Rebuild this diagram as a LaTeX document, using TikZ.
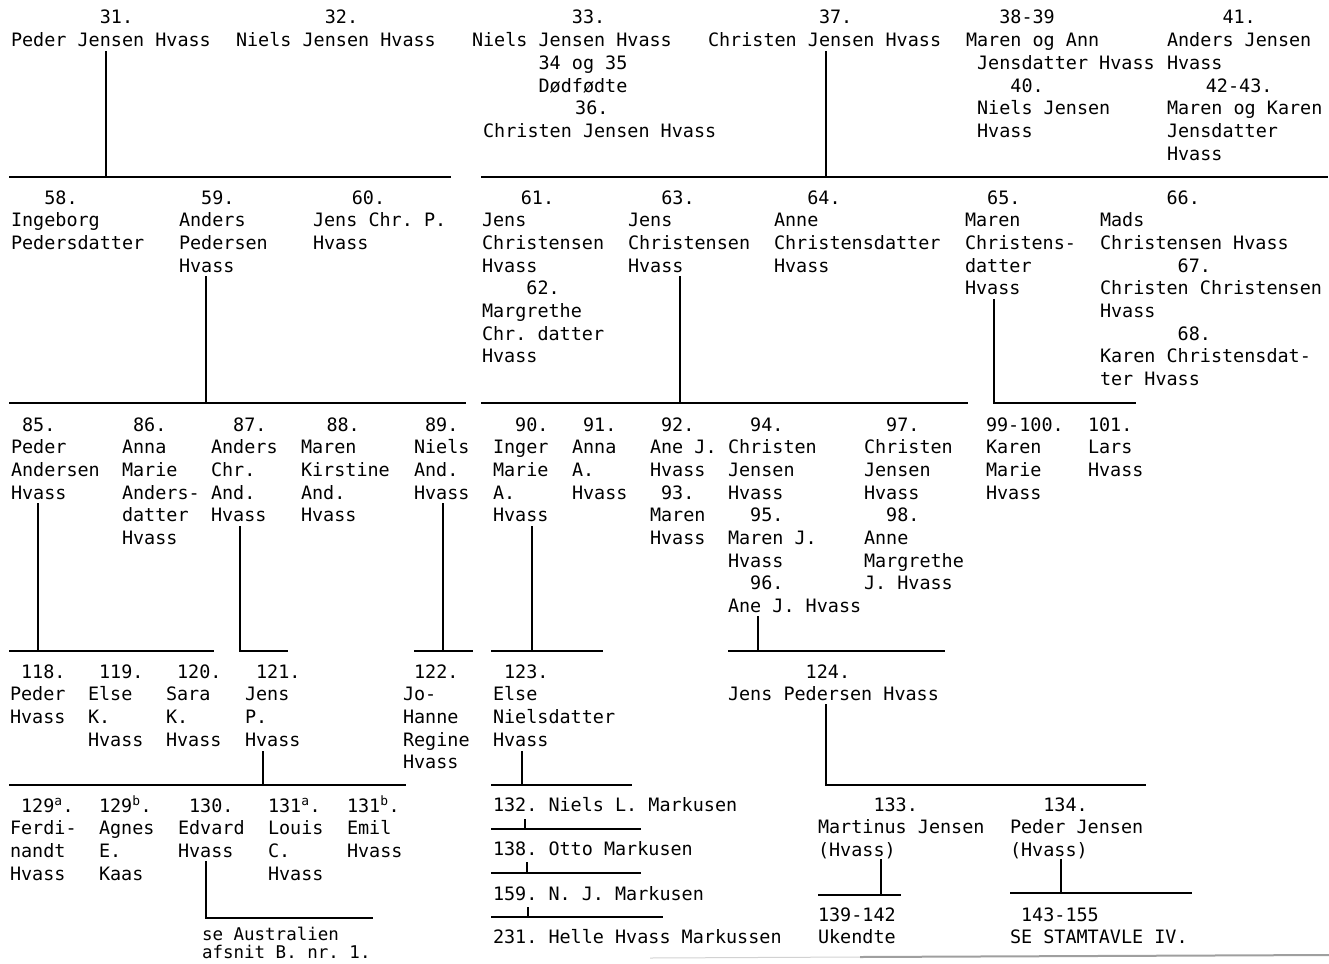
\documentclass[tikz,border=0pt]{standalone}
\usepackage{fontspec}
\newfontfamily\tw{DejaVu Sans Mono}
\newlength\cw
\setlength\cw{11.1pt}
\newcommand\ind[1]{\hspace*{#1\cw}}
\newcommand\blk[1]{\begin{tabular}[t]{@{}l@{}}#1\end{tabular}}
\newcommand\sups[1]{\textsuperscript{#1}}
\begin{document}
\frenchspacing
\begin{tikzpicture}[x=1pt,y=-1pt,
  person/.style={anchor=base west, inner sep=0pt, outer sep=0pt,
    font=\tw\fontsize{18.44}{22.7}\selectfont\frenchspacing},
  note/.style={person, font=\tw\fontsize{17.5}{18.5}\selectfont\frenchspacing},
  link/.style={line width=1.4pt, black, line cap=rect}]
\useasboundingbox (0,0) rectangle (1329,963);

% ---------------- generation 1
\node[person] (p31) at (11,24)  {\blk{\ind{8}31.\\Peder Jensen Hvass}};
\node[person] (p32) at (236,24) {\blk{\ind{8}32.\\Niels Jensen Hvass}};
\node[person] (p33) at (472,24) {\blk{\ind{9}33.\\Niels Jensen Hvass\\\ind{6}34 og 35\\\ind{6}Dødfødte\\\ind{9.3}36.\\\ind{1}Christen Jensen Hvass}};
\node[person] (p37) at (708,24) {\blk{\ind{10}37.\\Christen Jensen Hvass}};
\node[person] (p38) at (966,24) {\blk{\ind{3}38-39\\Maren og Ann\\\ind{1}Jensdatter Hvass\\\ind{4}40.\\\ind{1}Niels Jensen\\\ind{1}Hvass}};
\node[person] (p41) at (1167,24) {\blk{\ind{5}41.\\Anders Jensen\\Hvass\\\ind{3.5}42-43.\\Maren og Karen\\Jensdatter\\Hvass}};

\coordinate (t31) at (106,52);
\coordinate (t37) at (826,52);
\coordinate (b1l) at (10,177);   \coordinate (b1r) at (450,177);
\coordinate (b2l) at (482,177);  \coordinate (b2r) at (1327,177);
\draw[link] (t31) -- (t31 |- b1l);
\draw[link] (b1l) -- (b1r);
\draw[link] (t37) -- (t37 |- b2l);
\draw[link] (b2l) -- (b2r);

% ---------------- generation 2
\node[person] (p58) at (11,204)  {\blk{\ind{3}58.\\Ingeborg\\Pedersdatter}};
\node[person] (p59) at (179,204) {\blk{\ind{2}59.\\Anders\\Pedersen\\Hvass}};
\node[person] (p60) at (313,204) {\blk{\ind{3.5}60.\\Jens Chr. P.\\Hvass}};
\node[person] (p61) at (482,204) {\blk{\ind{3.5}61.\\Jens\\Christensen\\Hvass\\\ind{4}62.\\Margrethe\\Chr. datter\\Hvass}};
\node[person] (p63) at (628,204) {\blk{\ind{3}63.\\Jens\\Christensen\\Hvass}};
\node[person] (p64) at (774,204) {\blk{\ind{3}64.\\Anne\\Christensdatter\\Hvass}};
\node[person] (p65) at (965,204) {\blk{\ind{2}65.\\Maren\\Christens-\\datter\\Hvass}};
\node[person] (p66) at (1100,204) {\blk{\ind{6}66.\\Mads\\Christensen Hvass\\\ind{7}67.\\Christen Christensen\\Hvass\\\ind{7}68.\\Karen Christensdat-\\ter Hvass}};

\coordinate (t59) at (206,277);
\coordinate (t63) at (680,277);
\coordinate (t65) at (994,300);
\coordinate (b3l) at (10,403);   \coordinate (b3r) at (465,403);
\coordinate (b4l) at (482,403);  \coordinate (b4r) at (967,403);
\coordinate (b5r) at (1135,403);
\draw[link] (t59) -- (t59 |- b3l);
\draw[link] (b3l) -- (b3r);
\draw[link] (t63) -- (t63 |- b4l);
\draw[link] (b4l) -- (b4r);
\draw[link] (t65) -- (t65 |- b5r) -- (b5r);

% ---------------- generation 3
\node[person] (p85) at (11,431)  {\blk{\ind{1}85.\\Peder\\Andersen\\Hvass}};
\node[person] (p86) at (122,431) {\blk{\ind{1}86.\\Anna\\Marie\\Anders-\\datter\\Hvass}};
\node[person] (p87) at (211,431) {\blk{\ind{2}87.\\Anders\\Chr.\\And.\\Hvass}};
\node[person] (p88) at (301,431) {\blk{\ind{2.3}88.\\Maren\\Kirstine\\And.\\Hvass}};
\node[person] (p89) at (414,431) {\blk{\ind{1}89.\\Niels\\And.\\Hvass}};
\node[person] (p90) at (493,431) {\blk{\ind{2}90.\\Inger\\Marie\\A.\\Hvass}};
\node[person] (p91) at (572,431) {\blk{\ind{1}91.\\Anna\\A.\\Hvass}};
\node[person] (p92) at (650,431) {\blk{\ind{1}92.\\Ane J.\\Hvass\\\ind{1}93.\\Maren\\Hvass}};
\node[person] (p94) at (728,431) {\blk{\ind{2}94.\\Christen\\Jensen\\Hvass\\\ind{2}95.\\Maren J.\\Hvass\\\ind{2}96.\\Ane J. Hvass}};
\node[person] (p97) at (864,431) {\blk{\ind{2}97.\\Christen\\Jensen\\Hvass\\\ind{2}98.\\Anne\\Margrethe\\J. Hvass}};
\node[person] (p99) at (986,431) {\blk{99-100.\\Karen\\Marie\\Hvass}};
\node[person] (p101) at (1088,431) {\blk{101.\\Lars\\Hvass}};

\coordinate (t85) at (38,504);
\coordinate (t87) at (240,527);
\coordinate (t89) at (443,504);
\coordinate (t90) at (532,527);
\coordinate (t96) at (758,617);
\coordinate (b6l) at (10,651);   \coordinate (b6r) at (213,651);
\coordinate (b7r) at (287,651);
\coordinate (b8l) at (415,651);  \coordinate (b8r) at (472,651);
\coordinate (b9l) at (492,651);  \coordinate (b9r) at (602,651);
\coordinate (b10l) at (729,651); \coordinate (b10r) at (944,651);
\draw[link] (t85) -- (t85 |- b6l);
\draw[link] (b6l) -- (b6r);
\draw[link] (t87) -- (t87 |- b7r) -- (b7r);
\draw[link] (t89) -- (t89 |- b8l);
\draw[link] (b8l) -- (b8r);
\draw[link] (t90) -- (t90 |- b9l);
\draw[link] (b9l) -- (b9r);
\draw[link] (t96) -- (t96 |- b10l);
\draw[link] (b10l) -- (b10r);

% ---------------- generation 4
\node[person] (p118) at (10,678)  {\blk{\ind{1}118.\\Peder\\Hvass}};
\node[person] (p119) at (88,678)  {\blk{\ind{1}119.\\Else\\K.\\Hvass}};
\node[person] (p120) at (166,678) {\blk{\ind{1}120.\\Sara\\K.\\Hvass}};
\node[person] (p121) at (245,678) {\blk{\ind{1}121.\\Jens\\P.\\Hvass}};
\node[person] (p122) at (403,678) {\blk{\ind{1}122.\\Jo-\\Hanne\\Regine\\Hvass}};
\node[person] (p123) at (493,678) {\blk{\ind{1}123.\\Else\\Nielsdatter\\Hvass}};
\node[person] (p124) at (728,678) {\blk{\ind{7}124.\\Jens Pedersen Hvass}};

\coordinate (t121) at (263,752);
\coordinate (t123) at (522,752);
\coordinate (t124) at (826,705);
\coordinate (b11l) at (10,785);  \coordinate (b11r) at (405,785);
\coordinate (b12l) at (492,785); \coordinate (b12r) at (631,785);
\coordinate (b13r) at (1145,785);
\draw[link] (t121) -- (t121 |- b11l);
\draw[link] (b11l) -- (b11r);
\draw[link] (t123) -- (t123 |- b12l);
\draw[link] (b12l) -- (b12r);
\draw[link] (t124) -- (t124 |- b13r) -- (b13r);

% ---------------- generation 5
\node[person] (p129a) at (10,812)  {\blk{\ind{1}129\sups{a}.\\Ferdi-\\nandt\\Hvass}};
\node[person] (p129b) at (99,812)  {\blk{129\sups{b}.\\Agnes\\E.\\Kaas}};
\node[person] (p130) at (178,812)  {\blk{\ind{1}130.\\Edvard\\Hvass}};
\node[person] (p131a) at (268,812) {\blk{131\sups{a}.\\Louis\\C.\\Hvass}};
\node[person] (p131b) at (347,812) {\blk{131\sups{b}.\\Emil\\Hvass}};
\node[note] (aus) at (202,940) {\blk{se Australien\\afsnit B. nr. 1.}};

\coordinate (t130) at (206,862);
\coordinate (b14r) at (372,918);
\draw[link] (t130) -- (t130 |- b14r) -- (b14r);

\node[person] (p132) at (493,811) {132. Niels L. Markusen};
\node[person] (p138) at (493,855) {138. Otto Markusen};
\node[person] (p159) at (493,900) {159. N. J. Markusen};
\node[person] (p231) at (493,943) {231. Helle Hvass Markussen};

\coordinate (t132) at (525,820);
\coordinate (t138) at (527,863);
\coordinate (t159) at (528,908);
\coordinate (b15l) at (492,829); \coordinate (b15r) at (640,829);
\coordinate (b16l) at (492,873); \coordinate (b16r) at (640,873);
\coordinate (b17l) at (492,917); \coordinate (b17r) at (662,917);
\draw[link] (t132) -- (t132 |- b15l);
\draw[link] (b15l) -- (b15r);
\draw[link] (t138) -- (t138 |- b16l);
\draw[link] (b16l) -- (b16r);
\draw[link] (t159) -- (t159 |- b17l);
\draw[link] (b17l) -- (b17r);

\node[person] (p133) at (818,811)  {\blk{\ind{5}133.\\Martinus Jensen\\(Hvass)}};
\node[person] (p134) at (1010,811) {\blk{\ind{3}134.\\Peder Jensen\\(Hvass)}};
\node[person] (p139) at (818,921)  {\blk{139-142\\Ukendte}};
\node[person] (p143) at (1010,921) {\blk{\ind{1}143-155\\SE STAMTAVLE IV.}};

\coordinate (t133) at (881,860);
\coordinate (t134) at (1061,860);
\coordinate (b18l) at (819,895);  \coordinate (b18r) at (900,895);
\coordinate (b19l) at (1011,893); \coordinate (b19r) at (1191,893);
\draw[link] (t133) -- (t133 |- b18l);
\draw[link] (b18l) -- (b18r);
\draw[link] (t134) -- (t134 |- b19l);
\draw[link] (b19l) -- (b19r);

% scan edge at the bottom
\draw[gray!35, line width=1pt] (650,958) -- (860,957);
\draw[gray!75, line width=2pt] (860,957) -- (1329,955);
\end{tikzpicture}
\end{document}
